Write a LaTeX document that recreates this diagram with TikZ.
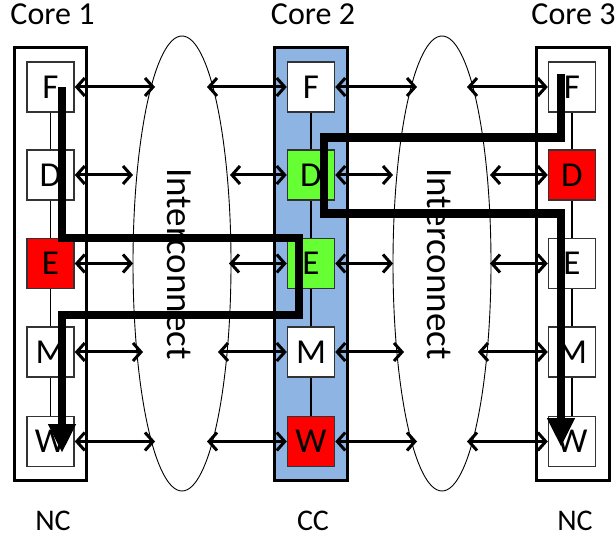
\documentclass[tikz,border=0pt]{standalone}
\usepackage{fontspec}
\setmainfont{Carlito}
\usetikzlibrary{arrows.meta}
\definecolor{redbox}{HTML}{FF0000}
\definecolor{greenbox}{HTML}{66FF33}
\definecolor{ccblue}{HTML}{8EB4E3}
\definecolor{edgegray}{HTML}{333333}
\begin{document}
\begin{tikzpicture}[x=1pt,y=-1pt,
  stagebox/.style={draw=edgegray,line width=1.5pt,fill=white,minimum width=47pt,minimum height=50pt,inner sep=0pt,font=\fontsize{35}{36}\selectfont},
  corebox/.style={draw=black,line width=3pt},
  link/.style={line width=1.2pt},
  biarrow/.style={line width=3pt,{Straight Barb[length=8pt,width=18pt]}-{Straight Barb[length=8pt,width=18pt]}},
  flow/.style={line width=8.5pt,line join=miter,-{Triangle[length=29pt,width=26pt]}},
  lbl/.style={font=\fontsize{32}{34}\selectfont,anchor=base,inner sep=0pt},
  small/.style={font=\fontsize{30}{32}\selectfont},
  ic/.style={draw=black,line width=0.9pt},
  ictext/.style={font=\fontsize{37}{38}\selectfont,rotate=-90,inner sep=0pt}
]
\useasboundingbox (0,0) rectangle (616,537);

% core frames
\draw[corebox] (14,48) rectangle (86,480);
\draw[corebox,fill=ccblue] (274,48) rectangle (347,480);
\draw[corebox] (536,48) rectangle (609,480);

% interconnect ellipses
\draw[ic] (182,263.5) ellipse [x radius=49, y radius=227.5];
\draw[ic] (442,263.5) ellipse [x radius=49, y radius=227.5];
\node[ictext] (ic1) at (179,264) {Interconnect};
\node[ictext] (ic2) at (439,264) {Interconnect};

% stages
\foreach \c/\x in {1/50.5,2/311,3/572}{
  \node[stagebox] (c\c F) at (\x,87) {F};
  \node[stagebox] (c\c D) at (\x,175) {D};
  \node[stagebox] (c\c E) at (\x,263.5) {E};
  \node[stagebox] (c\c M) at (\x,352) {M};
  \node[stagebox] (c\c W) at (\x,441.5) {W};
  \draw[link] (c\c F) -- (c\c D);
  \draw[link] (c\c D) -- (c\c E);
  \draw[link] (c\c E) -- (c\c M);
  \draw[link] (c\c M) -- (c\c W);
}
\node[stagebox,fill=redbox] at (c1E) {E};
\node[stagebox,fill=greenbox] at (c2D) {D};
\node[stagebox,fill=greenbox] at (c2E) {E};
\node[stagebox,fill=redbox] at (c2W) {W};
\node[stagebox,fill=redbox] at (c3D) {D};

% arrow end coordinates
\coordinate (aF1) at (155,87);  \coordinate (aD1) at (133,175); \coordinate (aE1) at (133,263.5);
\coordinate (aM1) at (143,352); \coordinate (aW1) at (155,441.5);
\coordinate (bF1) at (207,87);  \coordinate (bD1) at (230,175); \coordinate (bE1) at (229,263.5);
\coordinate (bM1) at (218,352); \coordinate (bW1) at (207,441.5);
\coordinate (aF2) at (417,87);  \coordinate (aD2) at (393,175); \coordinate (aE2) at (393,263.5);
\coordinate (aM2) at (404,352); \coordinate (aW2) at (417,441.5);
\coordinate (bF2) at (467,87);  \coordinate (bD2) at (490,175); \coordinate (bE2) at (490,263.5);
\coordinate (bM2) at (478,352); \coordinate (bW2) at (467,441.5);

\foreach \s in {F,D,E,M,W}{
  \draw[biarrow] (c1\s.east) -- (a\s1);
  \draw[biarrow] (b\s1) -- (c2\s.west);
  \draw[biarrow] (c2\s.east) -- (a\s2);
  \draw[biarrow] (b\s2) -- (c3\s.west);
}

% thick flows
\coordinate (p0) at (62,87);
\coordinate (p1) at (62,238);
\coordinate (p2) at (299,238);
\coordinate (p3) at (299,315);
\coordinate (p4) at (62,315);
\coordinate (p5) at (62,453);
\draw[flow] (p0) -- (p1) -- (p2) -- (p3) -- (p4) -- (p5);

\coordinate (q0) at (561,74);
\coordinate (q1) at (561,137.5);
\coordinate (q2) at (324,137.5);
\coordinate (q3) at (324,213.5);
\coordinate (q4) at (561,213.5);
\coordinate (q5) at (561,447);
\draw[flow] (q0) -- (q1) -- (q2) -- (q3) -- (q4) -- (q5);

% labels
\node[lbl] (t1) at (52.5,25) {Core 1};
\node[lbl] (t2) at (313,25) {Core 2};
\node[lbl] (t3) at (573.5,25) {Core 3};
\node[lbl,small] (n1) at (53,530) {NC};
\node[lbl,small] (n2) at (313,530) {CC};
\node[lbl,small] (n3) at (575,530) {NC};
\end{tikzpicture}
\end{document}
